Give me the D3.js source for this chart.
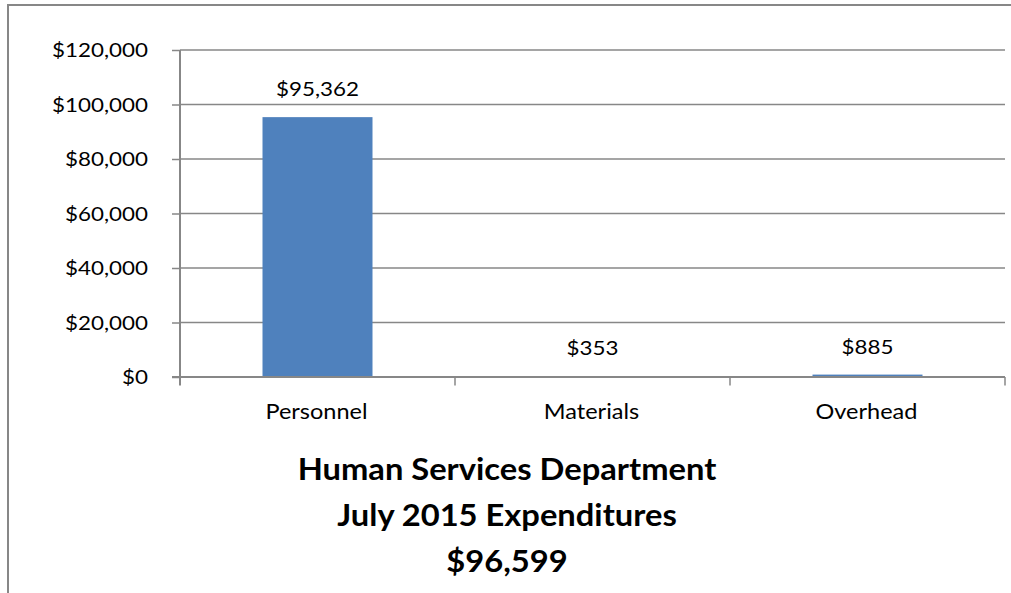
<!DOCTYPE html>
<html>
<head>
<meta charset="utf-8">
<script src="https://cdn.jsdelivr.net/npm/d3@7"></script>
<style>
  body { margin: 0; background: #fff; }
  svg { display: block; }
  text { font-family: Lato, "Open Sans", sans-serif; fill: #000; }
</style>
</head>
<body>
<div id="chart"></div>
<script>
// July 2015 expenditures by category
const categories = ["Personnel", "Materials", "Overhead"];
const expenditures = [95362, 353, 885];
const yTicks = [0, 20000, 40000, 60000, 80000, 100000, 120000];
const titleLines = ["Human Services Department", "July 2015 Expenditures", "$96,599"];

const W = 1011, H = 593;
const plot = { left: 180, right: 1005, top: 50, bottom: 377 };
const gray = "#878787";
const stretch = 1.12; // horizontal widening of glyphs

const money = d => "$" + d3.format(",")(d);

const svg = d3.select("#chart").append("svg")
  .attr("width", W).attr("height", H);

// chart frame
svg.append("rect")
  .attr("x", 8).attr("y", 5)
  .attr("width", 1010).attr("height", 600)
  .attr("fill", "#fff")
  .attr("stroke", gray).attr("stroke-width", 2);

const x = d3.scaleBand()
  .domain(categories)
  .range([plot.left, plot.right])
  .padding(0);

const y = d3.scaleLinear()
  .domain([0, 120000])
  .range([plot.bottom, plot.top]);

// horizontal gridlines
svg.append("g")
  .selectAll("line")
  .data(yTicks.filter(d => d > 0))
  .join("line")
  .attr("x1", plot.left).attr("x2", plot.right)
  .attr("y1", d => y(d)).attr("y2", d => y(d))
  .attr("stroke", gray).attr("stroke-width", 1.5);

// y axis
const yAxis = svg.append("g")
  .attr("transform", `translate(${plot.left},0)`)
  .call(d3.axisLeft(y).tickValues(yTicks).tickSize(8).tickFormat(money));
yAxis.select(".domain").remove();
yAxis.selectAll(".tick line").attr("stroke", gray).attr("stroke-width", 1.5);
yAxis.selectAll(".tick text")
  .attr("x", null).attr("dy", null)
  .attr("transform", `translate(-32,6.5) scale(${stretch},1)`)
  .attr("text-anchor", "end")
  .style("font-size", "20px")
  .style("font-family", "Lato, 'Open Sans', sans-serif")
  .attr("fill", "#000");
svg.append("line")
  .attr("x1", plot.left).attr("x2", plot.left)
  .attr("y1", plot.top).attr("y2", plot.bottom + 8.5)
  .attr("stroke", gray).attr("stroke-width", 2);

// bars
const barW = x.bandwidth() * 0.4;
svg.append("g")
  .selectAll("rect")
  .data(categories)
  .join("rect")
  .attr("x", d => x(d) + (x.bandwidth() - barW) / 2)
  .attr("width", barW)
  .attr("y", (d, i) => y(expenditures[i]))
  .attr("height", (d, i) => y(0) - y(expenditures[i]))
  .attr("fill", "#4F81BD");

// x axis line and category boundary ticks
svg.append("line")
  .attr("x1", plot.left - 8).attr("x2", plot.right)
  .attr("y1", y(0)).attr("y2", y(0))
  .attr("stroke", gray).attr("stroke-width", 2);
const bounds = categories.map(c => x(c)).concat([x.range()[1]]);
svg.append("g")
  .selectAll("line")
  .data(bounds.slice(1))
  .join("line")
  .attr("x1", d => d).attr("x2", d => d)
  .attr("y1", y(0)).attr("y2", y(0) + 8.5)
  .attr("stroke", gray).attr("stroke-width", 1.5);

// category labels
const xAxis = svg.append("g")
  .attr("transform", `translate(0,${y(0)})`)
  .call(d3.axisBottom(x).tickSize(0));
xAxis.select(".domain").remove();
xAxis.selectAll(".tick text")
  .attr("y", null).attr("dy", null)
  .attr("transform", `translate(-1,41.5) scale(${stretch},1)`)
  .style("font-size", "21px")
  .style("font-family", "Lato, 'Open Sans', sans-serif")
  .attr("fill", "#000");

// value labels
svg.append("g")
  .selectAll("text")
  .data(categories)
  .join("text")
  .attr("text-anchor", "middle")
  .attr("transform", (d, i) =>
    `translate(${x(d) + x.bandwidth() / 2},${y(expenditures[i]) - 21}) scale(${stretch},1)`)
  .style("font-size", "20px")
  .text((d, i) => money(expenditures[i]));

// title
svg.append("g")
  .selectAll("text")
  .data(titleLines)
  .join("text")
  .attr("text-anchor", "middle")
  .attr("transform", (d, i) => `translate(507,${479.5 + i * 46.2}) scale(1.09,1)`)
  .style("font-size", "30px")
  .style("font-weight", "bold")
  .text(d => d);
</script>
</body>
</html>
